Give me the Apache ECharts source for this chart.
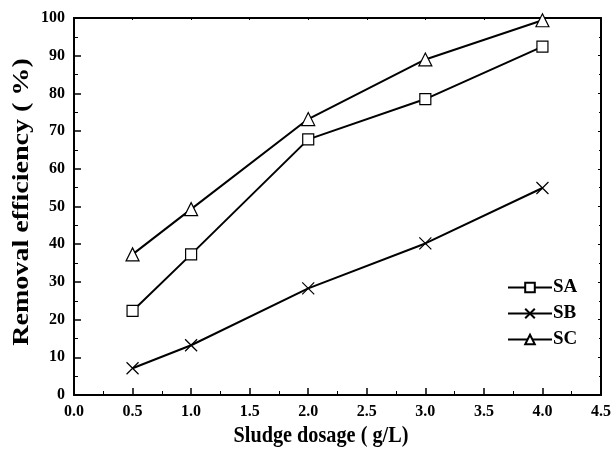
<!DOCTYPE html>
<html><head><meta charset="utf-8">
<script src="https://cdn.jsdelivr.net/npm/echarts@6/dist/echarts.min.js"></script>
<style>html,body{margin:0;padding:0;background:#fff}#c{width:614px;height:450px}</style>
</head><body><div id="c"></div>
<script>
const dosage = [0.5, 1.0, 2.0, 3.0, 4.0];
const SA = [22.3, 37.3, 67.8, 78.5, 92.4];
const SB = [7.1, 13.2, 28.3, 40.2, 54.9];
const SC = [37.3, 49.3, 73.2, 89.0, 99.4];
const seriesNames = ['SA', 'SB', 'SC'];
const xTitle = 'Sludge dosage ( g/L)';
const yTitle = 'Removal efficiency ( %)';

const font = '"Liberation Serif", "DejaVu Serif", serif';
const crossPath = 'path://M0,0L10,10M10,0L0,10';
function pts(arr){ return dosage.map((x,i)=>[x, arr[i]]); }
function mk(name, data, symbol, size){
  return {
    name, type:'line', data: pts(data), symbol, symbolSize: size,
    showSymbol:true,
    lineStyle:{color:'#000', width:2},
    itemStyle:{color: symbol===crossPath ? 'rgba(0,0,0,0)' : '#fff', borderColor:'#000', borderWidth: 1.2},
    emphasis:{disabled:true}, z: 3
  };
}
const chart = echarts.init(document.getElementById('c'), null, {renderer:'canvas'});
const axisCommon = {
  axisLine:{show:true, onZero:false, lineStyle:{color:'#000', width:2}},
  axisTick:{show:true, inside:true, length:7, lineStyle:{color:'#000', width:1.5}},
  minorTick:{show:true, splitNumber:2, length:4, lineStyle:{color:'#000', width:1}},
  splitLine:{show:false},
};
chart.setOption({
  animation:false,
  backgroundColor:'#fff',
  grid:{left:74, right:11, top:18, bottom:55},
  legend:{
    data: seriesNames, orient:'vertical', left:502, top:273, itemGap:7,
    itemWidth:44, itemHeight:12,
    textStyle:{fontFamily:font, fontWeight:'bold', fontSize:19, color:'#000', padding:[0,0,0,-4]}
  },
  graphic:[
    {type:'text', x:321, y:436, scaleX:0.88, scaleY:1,
      style:{text:xTitle, font:'bold 23px ' + font, fill:'#000', align:'center', verticalAlign:'middle'}},
    {type:'text', x:22, y:202, rotation:Math.PI/2, scaleX:1.22, scaleY:1,
      style:{text:yTitle, font:'bold 23px ' + font, fill:'#000', align:'center', verticalAlign:'middle'}}
  ],
  xAxis:[Object.assign({}, axisCommon, {
    type:'value', min:0, max:4.5, interval:0.5,
    axisLabel:{fontFamily:font, fontWeight:'bold', fontSize:16, color:'#000', margin:9,
      formatter:v=>v.toFixed(1)}
  }), Object.assign({}, axisCommon, {
    type:'value', min:0, max:4.5, interval:0.5, position:'top',
    axisLabel:{show:false},
    axisTick:{show:true, inside:true, length:2, lineStyle:{color:'#000', width:1}},
    minorTick:{show:false}
  })],
  yAxis:[Object.assign({}, axisCommon, {
    type:'value', min:0, max:100, interval:10,
    axisLabel:{fontFamily:font, fontWeight:'bold', fontSize:16, color:'#000', margin:9}
  }), Object.assign({}, axisCommon, {
    type:'value', min:0, max:100, interval:10, position:'right',
    axisLabel:{show:false},
    axisTick:{show:true, inside:true, length:3, lineStyle:{color:'#000', width:1}},
    minorTick:{show:true, splitNumber:2, length:2, lineStyle:{color:'#000', width:1}}
  })],
  series:[
    mk('SA', SA, 'rect', 11),
    mk('SB', SB, crossPath, 12),
    mk('SC', SC, 'triangle', 13)
  ]
});
</script></body></html>
